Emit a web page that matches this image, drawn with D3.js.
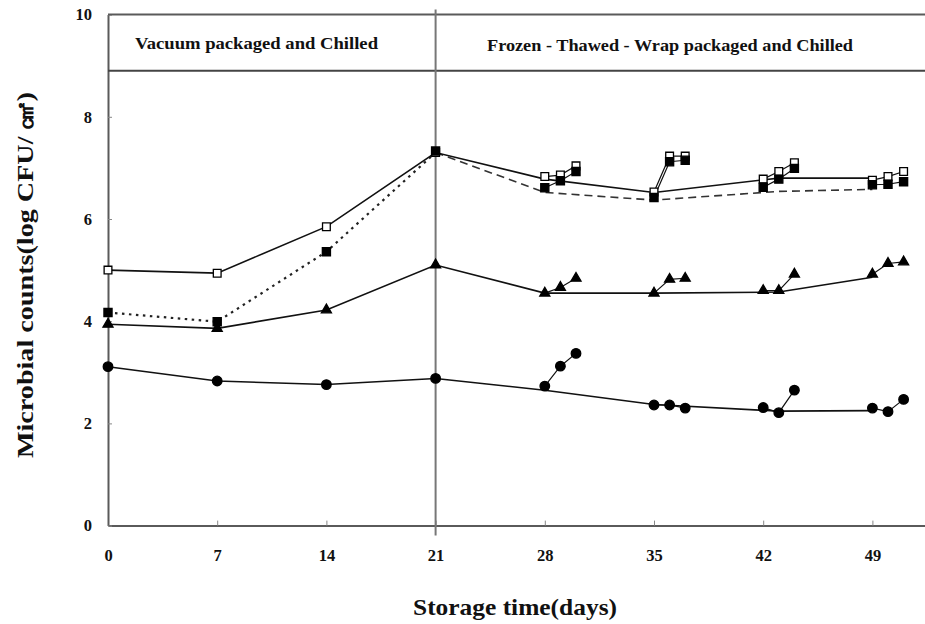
<!DOCTYPE html>
<html>
<head>
<meta charset="utf-8">
<script src="https://cdn.jsdelivr.net/npm/d3@7"></script>
<style>
  html, body { margin: 0; padding: 0; background: #fff; }
  svg { display: block; }
  text { font-family: "Liberation Serif", "DejaVu Serif", serif; font-weight: bold; fill: #111; }
</style>
</head>
<body>
<svg id="chart" width="925" height="624"></svg>
<script>
// Sampling days (main days plus the two follow-up days after each thaw)
const days = [0, 7, 14, 21, 28, 29, 30, 35, 36, 37, 42, 43, 44, 49, 50, 51];
const openSquares   = [5.00, 4.94, 5.85, 7.30, 6.83, 6.86, 7.04, 6.53, 7.23, 7.23, 6.78, 6.93, 7.10, 6.76, 6.83, 6.93];
const filledSquares = [4.17, 3.99, 5.36, 7.33, 6.61, 6.75, 6.93, 6.42, 7.12, 7.15, 6.62, 6.78, 6.99, 6.67, 6.68, 6.73];
const triangles     = [3.94, 3.86, 4.22, 5.10, 4.55, 4.66, 4.84, 4.55, 4.82, 4.84, 4.60, 4.60, 4.92, 4.92, 5.13, 5.16];
const circles       = [3.11, 2.83, 2.76, 2.88, 2.73, 3.12, 3.37, 2.36, 2.36, 2.30, 2.31, 2.21, 2.65, 2.30, 2.23, 2.47];

// Long trend lines across the storage period
const trendDays   = [0, 7, 14, 21, 28, 35, 43, 49];
const openTrend   = [5.00, 4.94, 5.85, 7.30, 6.78, 6.52, 6.80, 6.80];
const filledTrend = [4.17, 3.99, 5.36, 7.30, 6.52, 6.37, 6.54, 6.58];
const triTrend    = [3.94, 3.86, 4.22, 5.10, 4.55, 4.55, 4.57, 4.86];
const circTrend   = [3.11, 2.83, 2.76, 2.88, 2.65, 2.37, 2.24, 2.25];

// Short branches joining each thaw day with its follow-up days
const branches = [[28, 29, 30], [35, 36, 37], [42, 43, 44], [49, 50, 51]];

const xTicks = [0, 7, 14, 21, 28, 35, 42, 49];
const yTicks = [0, 2, 4, 6, 8, 10];
const phaseSplitDay = 21;
const headerLevel = 8.9;
const phaseLabels = ["Vacuum packaged and Chilled", "Frozen - Thawed - Wrap packaged and Chilled"];
const xTitle = "Storage time(days)";
const yTitle = "Microbial counts(log CFU/ \u33A0)";

const svg = d3.select("#chart");
const x = d3.scaleLinear().domain([0, 52.5]).range([108, 927]);
const y = d3.scaleLinear().domain([0, 10]).range([525.6, 14.6]);

const frame = "#5a5a5a";

// axes
const xAxis = d3.axisBottom(x).tickValues(xTicks).tickSizeInner(-5).tickSizeOuter(0).tickPadding(24);
const yAxis = d3.axisLeft(y).tickValues(yTicks).tickSizeInner(-4).tickSizeOuter(0).tickPadding(16);

const gx = svg.append("g").attr("transform", `translate(0,${y(0)})`).call(xAxis);
const gy = svg.append("g").attr("transform", `translate(${x(0)},0)`).call(yAxis);
[gx, gy].forEach(g => {
  g.select(".domain").attr("stroke", frame).attr("stroke-width", 2);
  g.selectAll(".tick line").attr("stroke", "#888").attr("stroke-width", 1);
  g.selectAll(".tick text").attr("font-size", 16.5).attr("fill", "#111")
    .attr("font-family", "'Liberation Serif', serif").attr("font-weight", "bold");
});

// top border, header divider and phase split
svg.append("line").attr("x1", x(0)).attr("x2", x.range()[1]).attr("y1", y(10)).attr("y2", y(10))
  .attr("stroke", frame).attr("stroke-width", 2);
svg.append("line").attr("x1", x(0)).attr("x2", x.range()[1]).attr("y1", y(headerLevel)).attr("y2", y(headerLevel))
  .attr("stroke", "#444").attr("stroke-width", 2);
svg.append("line").attr("x1", x(phaseSplitDay)).attr("x2", x(phaseSplitDay))
  .attr("y1", y(10) - 5).attr("y2", y(0) + 10)
  .attr("stroke", "#777").attr("stroke-width", 2);

// phase labels
const labelY = (y(10) + y(headerLevel)) / 2;
svg.append("text").attr("x", 135).attr("y", labelY + 6).attr("font-size", 17)
  .attr("textLength", 243).attr("lengthAdjust", "spacingAndGlyphs").text(phaseLabels[0]);
svg.append("text").attr("x", 487).attr("y", labelY + 8).attr("font-size", 17)
  .attr("textLength", 366).attr("lengthAdjust", "spacingAndGlyphs").text(phaseLabels[1]);

// axis titles
svg.append("text").attr("x", 413).attr("y", 615).attr("font-size", 23)
  .attr("textLength", 204).attr("lengthAdjust", "spacingAndGlyphs").text(xTitle);
svg.append("text").attr("transform", `translate(33,458) rotate(-90)`)
  .attr("font-size", 23).attr("textLength", 366).attr("lengthAdjust", "spacingAndGlyphs").text(yTitle);

const line = d3.line().x(d => x(d[0])).y(d => y(d[1]));
const pairs = (ds, vs) => ds.map((d, i) => [d, vs[i]]);
const valueAt = (vs, d) => vs[days.indexOf(d)];

const plot = svg.append("g");

// trend lines
const openPts = pairs(trendDays, openTrend);
const filledPts = pairs(trendDays, filledTrend);
const splitIdx = trendDays.indexOf(phaseSplitDay);

plot.append("path").attr("d", line(filledPts.slice(0, splitIdx + 1)))
  .attr("fill", "none").attr("stroke", "#222").attr("stroke-width", 2.2).attr("stroke-dasharray", "2.5,4.5");
plot.append("path").attr("d", line(filledPts.slice(splitIdx)))
  .attr("fill", "none").attr("stroke", "#333").attr("stroke-width", 1.6).attr("stroke-dasharray", "8,5");
[openPts, pairs(trendDays, triTrend), pairs(trendDays, circTrend)].forEach(p => {
  plot.append("path").attr("d", line(p)).attr("fill", "none").attr("stroke", "#111").attr("stroke-width", 1.6);
});

// branch lines for each series
[openSquares, filledSquares, triangles, circles].forEach(vs => {
  branches.forEach(b => {
    plot.append("path").attr("d", line(b.map(d => [d, valueAt(vs, d)])))
      .attr("fill", "none").attr("stroke", "#111").attr("stroke-width", 1.2);
  });
});

// markers
function drawMarkers(vs, type, size, fill, stroke) {
  plot.append("g").selectAll("path").data(pairs(days, vs)).join("path")
    .attr("transform", d => `translate(${x(d[0])},${y(d[1])})`)
    .attr("d", d3.symbol().type(type).size(size))
    .attr("fill", fill).attr("stroke", stroke).attr("stroke-width", 1.3);
}
drawMarkers(circles, d3.symbolCircle, 72, "#000", "#000");
drawMarkers(triangles, d3.symbolTriangle, 44, "#000", "#000");
drawMarkers(openSquares, d3.symbolSquare, 60, "#fff", "#000");
drawMarkers(filledSquares, d3.symbolSquare, 66, "#000", "#000");
</script>
</body>
</html>
